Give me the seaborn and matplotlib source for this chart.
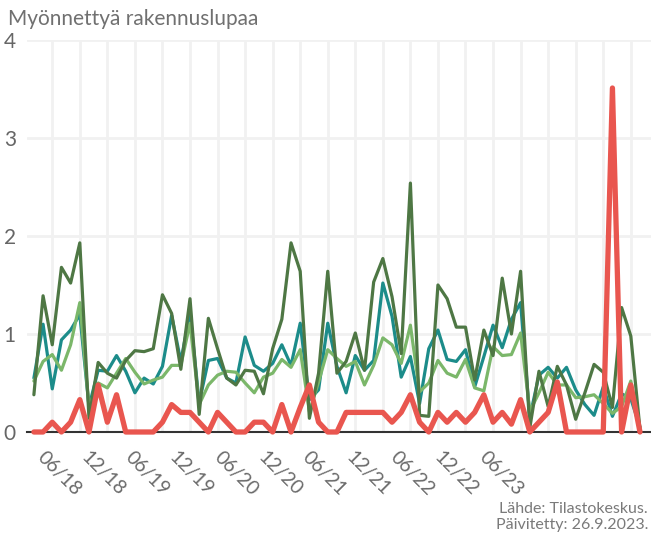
import numpy as np
import pandas as pd
import matplotlib
matplotlib.use('Agg')
import matplotlib.pyplot as plt
import seaborn as sns

# monthly series, 01/2018 - 07/2023
months = pd.date_range('2018-01-01', periods=67, freq='MS')

tick_labels = ['06/18', '12/18', '06/19', '12/19', '06/20', '12/20',
               '06/21', '12/21', '06/22', '12/22', '06/23']

dark_green = [0.38, 1.39, 0.89, 1.68, 1.52, 1.93, 0.14, 0.71, 0.60, 0.55,
              0.73, 0.83, 0.82, 0.85, 1.40, 1.21, 0.64, 1.36, 0.18, 1.16,
              0.85, 0.55, 0.48, 0.63, 0.62, 0.39, 0.85, 1.15, 1.93, 1.64,
              0.14, 0.60, 1.64, 0.60, 0.72, 1.01, 0.63, 1.53, 1.77, 1.38,
              0.80, 2.54, 0.17, 0.16, 1.50, 1.36, 1.07, 1.07, 0.53, 1.04,
              0.78, 1.57, 1.00, 1.64, 0.04, 0.62, 0.26, 0.67, 0.48, 0.13,
              0.40, 0.69, 0.61, 0.25, 1.27, 0.98, 0.03]

teal = [0.55, 1.10, 0.44, 0.94, 1.04, 1.20, 0.26, 0.63, 0.62, 0.78,
        0.62, 0.40, 0.55, 0.49, 0.67, 1.19, 0.72, 1.22, 0.30, 0.73,
        0.75, 0.55, 0.50, 0.97, 0.68, 0.62, 0.70, 0.89, 0.68, 1.11,
        0.33, 0.43, 1.11, 0.67, 0.40, 0.78, 0.63, 0.73, 1.52, 1.18,
        0.56, 0.77, 0.29, 0.85, 1.04, 0.74, 0.72, 0.84, 0.46, 0.77,
        1.09, 0.86, 1.15, 1.32, 0.15, 0.58, 0.66, 0.55, 0.66, 0.43,
        0.28, 0.17, 0.46, 0.16, 0.39, 0.34, 0.05]

light_green = [0.52, 0.72, 0.79, 0.63, 0.89, 1.32, 0.26, 0.50, 0.45, 0.60,
               0.75, 0.61, 0.49, 0.53, 0.56, 0.68, 0.68, 1.11, 0.28, 0.48,
               0.58, 0.62, 0.61, 0.50, 0.40, 0.56, 0.60, 0.74, 0.66, 0.84,
               0.21, 0.51, 0.84, 0.75, 0.67, 0.72, 0.48, 0.68, 0.96, 0.89,
               0.70, 1.09, 0.41, 0.50, 0.73, 0.60, 0.56, 0.74, 0.45, 0.42,
               0.87, 0.78, 0.79, 1.01, 0.21, 0.40, 0.61, 0.48, 0.48, 0.35,
               0.36, 0.38, 0.29, 0.19, 0.26, 0.52, 0.03]

red = [0.00, 0.00, 0.10, 0.00, 0.10, 0.33, 0.00, 0.48, 0.10, 0.38,
       0.00, 0.00, 0.00, 0.00, 0.10, 0.28, 0.20, 0.20, 0.10, 0.00,
       0.20, 0.10, 0.00, 0.00, 0.10, 0.10, 0.00, 0.28, 0.00, 0.25,
       0.48, 0.10, 0.00, 0.00, 0.20, 0.20, 0.20, 0.20, 0.20, 0.10,
       0.20, 0.38, 0.10, 0.00, 0.20, 0.10, 0.20, 0.10, 0.20, 0.38,
       0.10, 0.20, 0.08, 0.33, 0.00, 0.10, 0.20, 0.51, 0.00, 0.00,
       0.00, 0.00, 0.00, 3.51, 0.00, 0.48, 0.00]

series = {'teal': teal, 'light_green': light_green, 'dark_green': dark_green, 'red': red}
colors = {'teal': '#1c8c8a', 'light_green': '#7bb76a', 'dark_green': '#4e7744', 'red': '#e9564f'}
widths = {'teal': 2.3, 'light_green': 2.3, 'dark_green': 2.3, 'red': 3.8}

kk = np.arange(len(months))
df = pd.concat([pd.DataFrame({'kk': kk, 'arvo': v, 'sarja': s}) for s, v in series.items()])

sns.set_theme(style='white')
plt.rcParams['font.family'] = ['Lato', 'DejaVu Sans']

fig = plt.figure(figsize=(6.51, 5.36), dpi=100)
ax = fig.add_axes([27/651, 104/536, 624/651, 392/536])

for s in series:
    sns.lineplot(data=df[df['sarja'] == s], x='kk', y='arvo', color=colors[s],
                 linewidth=widths[s], ax=ax, clip_on=False, zorder=3)

ax.set_xlim(-0.75, 67.2)
ax.set_ylim(0, 4)
ax.set_xlabel('')
ax.set_ylabel('')

# quarterly grid, labels every half year
ax.set_xticks(np.arange(2, 67, 3), minor=True)
ax.set_xticks(1.3 + 4.81 * np.arange(len(tick_labels)))
ax.set_xticklabels(tick_labels)
ax.set_yticks([0, 1, 2, 3, 4])
ax.grid(axis='x', which='minor', color='#f1f1f1', linewidth=2)
ax.grid(axis='y', which='major', color='#f1f1f1', linewidth=2)
ax.tick_params(which='both', length=0)
ax.tick_params(axis='y', pad=8, labelsize=15, labelcolor='#666666')
ax.tick_params(axis='x', pad=12, labelsize=14, labelcolor='#6a6a6a')
for lbl in ax.get_xticklabels():
    lbl.set_rotation(-45)
    lbl.set_ha('left')
    lbl.set_va('top')
    lbl.set_rotation_mode('anchor')

for sp in ['top', 'right', 'left']:
    ax.spines[sp].set_visible(False)
ax.spines['bottom'].set_color('#333333')
ax.spines['bottom'].set_linewidth(1.5)
ax.spines['bottom'].set_zorder(2)

fig.text(8/651, 1 - 25/536, 'Myönnettyä rakennuslupaa', fontsize=15,
         color='#707070', ha='left', va='baseline')
fig.text(648/651, 4/536, 'Lähde: Tilastokeskus.\nPäivitetty: 26.9.2023.',
         fontsize=11.5, color='#7a7a7a', ha='right', va='bottom',
         multialignment='right')

fig.savefig('out.png', dpi=100)
